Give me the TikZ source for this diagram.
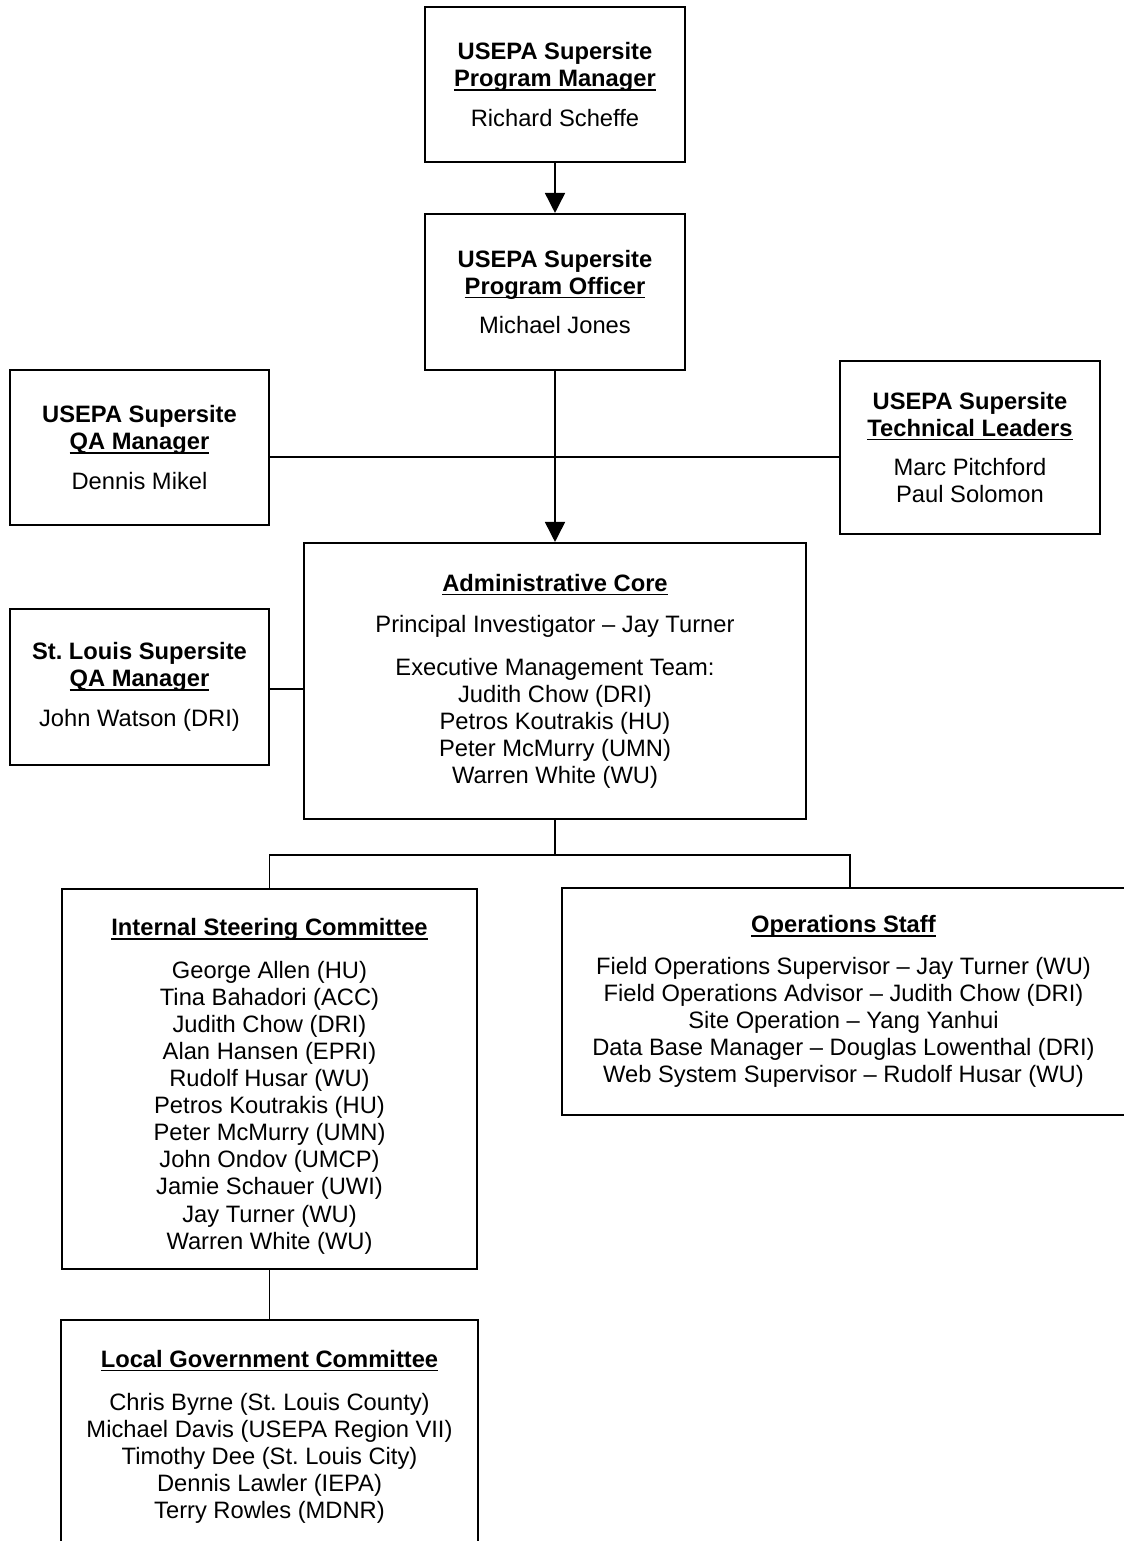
\documentclass[tikz,border=0pt]{standalone}
\usepackage{fontspec}
\setmainfont{Liberation Sans}
\frenchspacing
\usetikzlibrary{positioning, arrows.meta, calc}

% word-style underline that runs through the descenders
\newcommand{\ulword}[1]{\setbox0\hbox{#1}\rlap{\rule[-2.2pt]{\wd0}{0.8pt}}\box0}
\newcommand{\boxhead}[2]{\textbf{#1}\\\ulword{\textbf{#2}}}

\begin{document}
\begin{tikzpicture}[x=0.02cm, y=-0.02cm, >={Triangle[width=0.4cm,length=0.4cm]},
  orgbox/.style={draw, line width=1.2pt, align=center, inner sep=0pt,
    font=\fontsize{13.5pt}{15.4pt}\selectfont},
  openbox/.style={orgbox, draw=none},
  link/.style={line width=0.9pt}]

\useasboundingbox (0,0) rectangle (1124,1541);

% top of the chart
\node[orgbox, minimum width=5.2cm, minimum height=3.1cm] (pm) at (555,84.5)
  {\boxhead{USEPA Supersite}{Program Manager}\\[7pt] Richard Scheffe};
\node[orgbox, minimum width=5.2cm, minimum height=3.12cm] (po) at (555,292)
  {\boxhead{USEPA Supersite}{Program Officer}\\[7pt] Michael Jones};

\node[orgbox, minimum width=5.18cm, minimum height=3.1cm] (qa) at (139.5,447.5)
  {\boxhead{USEPA Supersite}{QA Manager}\\[7pt] Dennis Mikel};
\node[orgbox, minimum width=5.2cm, minimum height=3.46cm] (tl) at (970,447.5)
  {\boxhead{USEPA Supersite}{Technical Leaders}\\[7pt] Marc Pitchford\\Paul Solomon};

% administrative core
\node[orgbox, minimum width=10.04cm, minimum height=5.52cm] (ac) at (555,681)
  {\ulword{\textbf{Administrative Core}}\\[8pt]
   Principal Investigator -- Jay Turner\\[9pt]
   Executive Management Team:\\
   Judith Chow (DRI)\\Petros Koutrakis (HU)\\Peter McMurry (UMN)\\Warren White (WU)};
\node[orgbox, minimum width=5.18cm, minimum height=3.12cm] (sq) at (139.5,687)
  {\boxhead{St. Louis Supersite}{QA Manager}\\[7pt] John Watson (DRI)};

% committees and staff
\node[orgbox, minimum width=8.3cm, minimum height=7.6cm] (isc) at (269.5,1079)
  {\rule{0pt}{18pt}\ulword{\textbf{Internal Steering Committee}}\\[9pt]
   George Allen (HU)\\Tina Bahadori (ACC)\\Judith Chow (DRI)\\Alan Hansen (EPRI)\\
   Rudolf Husar (WU)\\Petros Koutrakis (HU)\\Peter McMurry (UMN)\\John Ondov (UMCP)\\
   Jamie Schauer (UWI)\\Jay Turner (WU)\\Warren White (WU)};
\node[openbox, minimum width=11.22cm, minimum height=4.5cm] (ops) at (843.5,1001.5)
  {\ulword{\textbf{Operations Staff}}\\[8pt]
   Field Operations Supervisor -- Jay Turner (WU)\\
   Field Operations Advisor -- Judith Chow (DRI)\\
   Site Operation -- Yang Yanhui\\
   Data Base Manager -- Douglas Lowenthal (DRI)\\
   Web System Supervisor -- Rudolf Husar (WU)};
\node[openbox, minimum width=8.3cm, minimum height=4.64cm] (lgc) at (269.5,1437)
  {\ulword{\textbf{Local Government Committee}}\\[9pt]
   Chris Byrne (St. Louis County)\\Michael Davis (USEPA Region VII)\\
   Timothy Dee (St. Louis City)\\Dennis Lawler (IEPA)\\Terry Rowles (MDNR)};

% boxes cut by the page edge
\draw[line width=1.2pt] (ops.north east) -- (ops.north west) -- (ops.south west) -- (ops.south east);
\draw[line width=1.2pt] (lgc.south west) -- (lgc.north west) -- (lgc.north east) -- (lgc.south east);

% connectors
\coordinate (hub) at (555,457);
\coordinate (fork) at (555,855);
\draw[link, ->] (pm) -- (po);
\draw[link, ->] (po) -- (ac);
\draw[link] (qa.east |- hub) -- (tl.west |- hub);
\draw[link] (sq.east |- 0,689) -- (ac.west |- 0,689);
\draw[link] (ac.south) -- (fork);
\draw[link] (isc.north) |- (fork) -| ($(ops.north)+(6.5,0)$);
\draw[link] (isc) -- (lgc);

\end{tikzpicture}
\end{document}
